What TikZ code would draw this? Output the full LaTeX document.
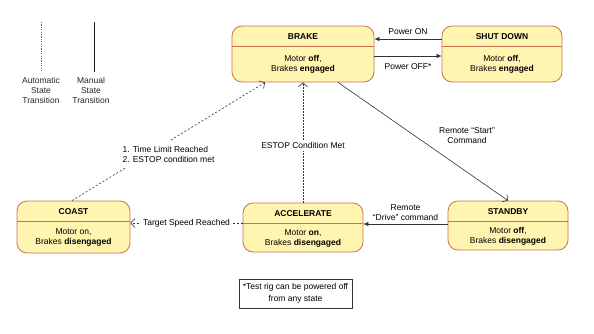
\documentclass[tikz,border=0pt]{standalone}
\usepackage{fontspec}
\setmainfont{Liberation Sans}
\usepackage{xcolor}
\usetikzlibrary{positioning,arrows.meta,calc}

\definecolor{statefill}{HTML}{FFF4B0}
\definecolor{stateedge}{HTML}{C8714E}
\definecolor{wire}{HTML}{333333}

\tikzset{
  statebox/.style={draw=stateedge, fill=statefill, line width=0.8pt, rounded corners=10pt, inner sep=0pt},
  statetitle/.style={font=\fontsize{8.5pt}{10pt}\selectfont\bfseries, inner sep=0pt, minimum height=21pt, anchor=north},
  statebody/.style={align=center, inner sep=0pt},
  manual/.style={draw=wire, line width=0.6pt},
  automatic/.style={draw=wire, line width=0.6pt, dash pattern=on 2pt off 2pt},
  lbl/.style={fill=white, inner sep=2pt},
  blocktip/.style={-{Latex[length=5pt,width=4.5pt]}},
  opentip/.style={-{Straight Barb[length=4pt,width=9pt]}},
}

% one state: name, x, y, width, height, title, body
\newcommand{\drawstate}[7]{%
  \node[statebox, minimum width=#4pt, minimum height=#5pt] (#1) at (#2,#3) {};
  \node[statetitle] (#1-title) at (#1.north) {#6};
  \draw[stateedge, line width=0.8pt] ([yshift=-21pt]#1.north west) -- ([yshift=-21pt]#1.north east);
  \node[statebody] (#1-body) at ($(#1.south)!0.5!([yshift=-21pt]#1.north)$) {#7};
}

\begin{document}
\begin{tikzpicture}[x=1pt, y=-1pt, font=\fontsize{8.5pt}{10pt}\selectfont]

\useasboundingbox (0,0) rectangle (594,333);

% Legend
\coordinate (autotop) at (41,22);
\coordinate (autobot) at (41,72);
\coordinate (mantop) at (94,22);
\coordinate (manbot) at (94,72);
\draw[gray!80!black, line width=0.6pt, dash pattern=on 1.2pt off 1.2pt] (autotop) -- (autobot);
\draw[gray!20!black, line width=0.7pt] (mantop) -- (manbot);
\node[align=center, gray!30!black] (autolbl) at (41,90) {Automatic\\State\\Transition};
\node[align=center, gray!30!black] (manlbl) at (91,90) {Manual\\State\\Transition};

% States
\drawstate{brake}{303}{54}{142}{56}{BRAKE}{Motor \textbf{off},\\Brakes \textbf{engaged}}
\drawstate{shutdown}{502}{54}{120}{56}{SHUT DOWN}{Motor \textbf{off},\\Brakes \textbf{engaged}}
\drawstate{standby}{508}{225.5}{120}{49}{STANDBY}{Motor \textbf{off},\\Brakes \textbf{disengaged}}
\drawstate{accel}{303}{227.5}{120}{49}{ACCELERATE}{Motor \textbf{on},\\Brakes \textbf{disengaged}}
\drawstate{coast}{73.5}{227}{113}{52}{COAST}{Motor on,\\Brakes \textbf{disengaged}}

% Manual transitions
\draw[manual, blocktip] ([yshift=15pt]shutdown.west) -- ([yshift=15pt]brake.east)
  node[midway, above=1pt] (pwron) {Power ON};
\draw[manual, blocktip] ([yshift=-2pt]brake.east) -- ([yshift=-2pt]shutdown.west)
  node[midway, below=4pt] (pwroff) {Power OFF*};
\draw[manual, opentip] ([xshift=35pt]brake.south) -- (standby.north)
  node[midway, xshift=44pt, yshift=6pt, align=center] (lblstart) {Remote “Start”\\Command};
\draw[manual, blocktip] ([yshift=1.5pt]standby.west) -- ([yshift=1.5pt]standby.west -| accel.east)
  node[midway, above, align=center] (lbldrive) {Remote\\“Drive” command};

% Automatic transitions
\draw[automatic, dash pattern=on 1.5pt off 1.5pt, opentip] (accel.north) -- (brake.south)
  node[midway, lbl, yshift=-3pt] (lblestop) {ESTOP Condition Met};
\draw[automatic, opentip] ([xshift=-1.5pt]coast.north) -- ([xshift=-38pt]brake.south)
  node[midway, lbl, yshift=-13pt, inner sep=5pt, align=left] (lbltime) {1. Time Limit Reached\\2. ESTOP condition met};
\draw[automatic, opentip] ([yshift=4.5pt]accel.west) -- ([yshift=4.5pt]accel.west -| coast.east)
  node[midway, lbl] (lblspeed) {Target Speed Reached};

% Footnote
\node[draw=wire, line width=0.6pt, minimum width=113pt, minimum height=29pt, align=center, inner sep=0pt,
  font=\fontsize{8.5pt}{12pt}\selectfont] (note) at (295.5,293.5) {*Test rig can be powered off\\from any state};

\end{tikzpicture}
\end{document}
